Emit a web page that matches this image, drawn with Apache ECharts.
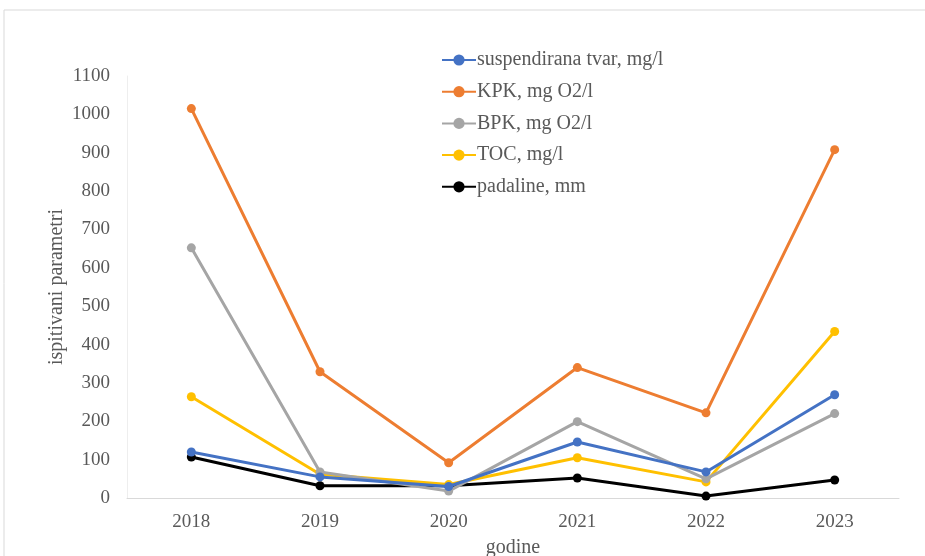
<!DOCTYPE html>
<html>
<head>
<meta charset="utf-8">
<script src="https://cdn.jsdelivr.net/npm/echarts@6/dist/echarts.min.js"></script>
<style>html,body{margin:0;padding:0;background:#fff;}#c{width:925px;height:556px;}</style>
</head>
<body>
<div id="c"></div>
<script>
const years = ['2018','2019','2020','2021','2022','2023'];
const suspendirana = [120, 55, 30, 146, 68, 269];
const kpk = [1015, 329, 92, 340, 222, 908];
const bpk = [652, 68, 18, 199, 50, 220];
const toc = [264, 62, 35, 105, 42, 434];
const padaline = [107, 32, 32, 52, 5, 47];
const yTicks = [0,100,200,300,400,500,600,700,800,900,1000,1100];

const names = ['suspendirana tvar, mg/l','KPK, mg O2/l','BPK, mg O2/l','TOC, mg/l','padaline, mm'];
const colors = ['#4472C4','#ED7D31','#A5A5A5','#FFC000','#000000'];
const datas = [suspendirana, kpk, bpk, toc, padaline];

const chart = echarts.init(document.getElementById('c'));
chart.setOption({
  animation:false,
  backgroundColor:'#fff',
  graphic:[{type:'rect',shape:{x:4,y:10,width:940,height:560},style:{fill:'none',stroke:'#d9d9d9',lineWidth:1},silent:true,z:-1}],
  legend:{
    orient:'vertical', left:436, top:45, itemWidth:34, itemHeight:14, itemGap:11.7,
    textStyle:{fontFamily:'Liberation Serif', fontSize:20, color:'#595959', padding:[0,0,0,-4]},
    data:names
  },
  grid:{left:127, right:26, top:76, bottom:58, containLabel:false, outerBoundsMode:'none'},
  xAxis:{
    type:'category', data:years, boundaryGap:true,
    name:'godine', nameLocation:'middle', nameGap:40, nameMoveOverlap:false,
    nameTextStyle:{fontFamily:'Liberation Serif', fontSize:20, color:'#595959'},
    axisLine:{lineStyle:{color:'#d9d9d9', width:1}},
    axisTick:{show:false},
    axisLabel:{fontFamily:'Liberation Serif', fontSize:19, color:'#595959', margin:15}
  },
  yAxis:{
    type:'value', min:0, max:1100, interval:100,
    name:'ispitivani parametri', nameLocation:'middle', nameGap:60, nameMoveOverlap:false,
    nameTextStyle:{fontFamily:'Liberation Serif', fontSize:20, color:'#595959'},
    axisLine:{show:true, lineStyle:{color:'#eeeeee'}},
    axisTick:{show:false},
    splitLine:{show:false},
    axisLabel:{fontFamily:'Liberation Serif', fontSize:19, color:'#595959', margin:17,
      formatter:(v)=> yTicks.includes(v) ? String(v) : ''}
  },
  series: names.map((n,i)=>({
    name:n, type:'line', data:datas[i], symbol:'circle', symbolSize:9,
    lineStyle:{width:3, color:colors[i]}, itemStyle:{color:colors[i]},
    z: 10-i
  }))
});
</script>
</body>
</html>
